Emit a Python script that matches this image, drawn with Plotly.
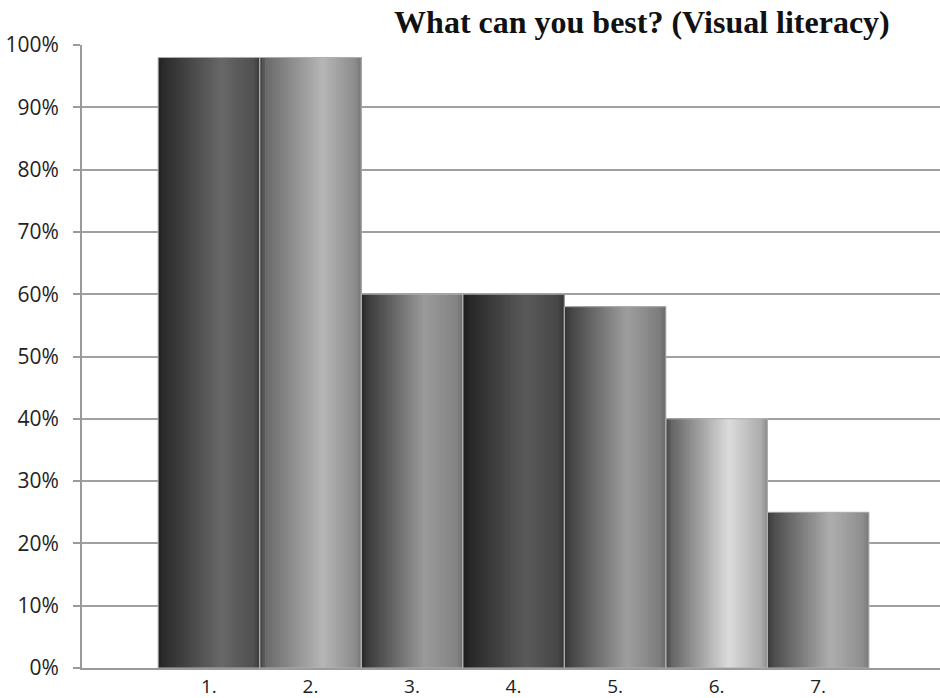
import plotly.graph_objects as go
import numpy as np

# ---- data ----
categories = ["1.", "2.", "3.", "4.", "5.", "6.", "7."]
values = [0.98, 0.98, 0.60, 0.60, 0.58, 0.40, 0.25]
y_ticks = [0, 0.1, 0.2, 0.3, 0.4, 0.5, 0.6, 0.7, 0.8, 0.9, 1.0]
y_tick_labels = ["0%", "10%", "20%", "30%", "40%", "50%", "60%", "70%", "80%", "90%", "100%"]
title_text = "What can you best? (Visual literacy)"

# ---- style: per-bar gradient tones (left edge, left, peak, right, right edge) ----
tones = [
    (0x22, 0x2c, 0x68, 0x50, 0x3a),
    (0x3a, 0x6a, 0xb6, 0x8c, 0x76),
    (0x26, 0x3a, 0x9a, 0x84, 0x70),
    (0x1c, 0x26, 0x5a, 0x46, 0x34),
    (0x34, 0x44, 0x9e, 0x7c, 0x6a),
    (0x48, 0x66, 0xdc, 0xac, 0x8a),
    (0x3a, 0x4c, 0xae, 0x8e, 0x7a),
]
stops_t = [0.0, 0.06, 0.62, 0.94, 1.0]

N = 40
width = 1.0
fig = go.Figure()
for k in range(N):
    t = (k + 0.5) / N
    cols = []
    for tone in tones:
        g = int(round(np.interp(t, stops_t, tone)))
        cols.append(f"rgb({g},{g},{g})")
    start = -width / 2 + k * width / N
    # each slice runs to the right edge of the bar; later slices cover earlier ones
    fig.add_trace(go.Bar(
        x=categories, y=values,
        width=width / 2 - start,
        offset=start,
        marker=dict(color=cols, line=dict(width=0)),
        showlegend=False, hoverinfo="skip",
    ))

# outline
fig.add_trace(go.Bar(
    x=categories, y=values, width=width, offset=-width / 2,
    marker=dict(color="rgba(0,0,0,0)", line=dict(width=1, color="#b0b0b0")),
    showlegend=False, hovertemplate="%{x} %{y:.0%}<extra></extra>",
))

fig.update_layout(
    width=940, height=698,
    margin=dict(l=82, r=0, t=45, b=30),
    paper_bgcolor="white", plot_bgcolor="white",
    barmode="overlay",
    title=dict(
        text=title_text, xref="paper", x=0.6526, xanchor="center",
        yref="container", y=1 - 22 / 698, yanchor="middle",
        font=dict(family="Liberation Serif", size=32, color="#111111", weight="bold"),
        automargin=False,
    ),
    xaxis=dict(
        type="category", range=[-1.25, 7.2],
        showgrid=False, showline=True, linecolor="#9a9a9a", linewidth=2,
        ticks="", ticklabelstandoff=0, automargin=False,
        tickfont=dict(family="Open Sans", size=19, color="#222222"),
        fixedrange=True,
    ),
    yaxis=dict(
        range=[0, 1.0], tickvals=y_ticks, ticktext=y_tick_labels,
        showgrid=True, gridcolor="#a0a0a0", gridwidth=2,
        showline=True, linecolor="#9a9a9a", linewidth=2,
        ticks="outside", ticklen=7, tickwidth=2, tickcolor="#9a9a9a",
        ticklabelstandoff=10, automargin=False,
        tickfont=dict(family="Open Sans", size=21, color="#222222"),
        zeroline=False, fixedrange=True,
    ),
)

fig.write_html("out.html")
